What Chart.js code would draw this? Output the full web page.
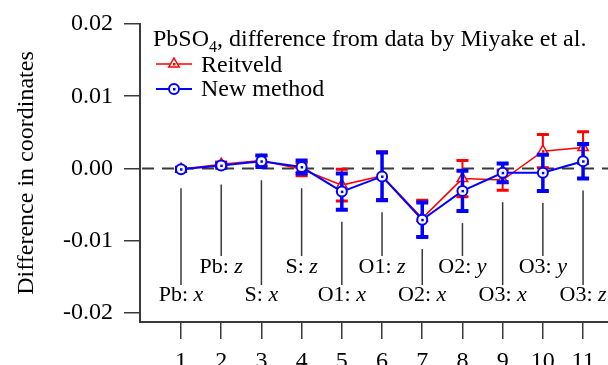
<!DOCTYPE html>
<html>
<head>
<meta charset="utf-8">
<script src="https://cdn.jsdelivr.net/npm/chart.js@4.4.1/dist/chart.umd.min.js"></script>
<style>
  html, body { margin: 0; padding: 0; background: #fff; }
  #wrap { width: 608px; height: 365px; }
</style>
</head>
<body>
<div id="wrap"><canvas id="c" width="608" height="365"></canvas></div>
<script>
// data
const indices = [1, 2, 3, 4, 5, 6, 7, 8, 9, 10, 11];
const atoms  = ['Pb', 'Pb', 'S', 'S', 'O1', 'O1', 'O2', 'O2', 'O3', 'O3', 'O3'];
const coords = ['x', 'z', 'x', 'z', 'x', 'z', 'x', 'y', 'x', 'y', 'z'];
const reitveld     = [-0.0001, 0.0006, 0.0011, -0.0001, -0.0023, -0.0010, -0.0069, -0.0014, -0.0016, 0.0024, 0.0029];
const reitveldErr  = [0.0002, 0.0003, 0.0007, 0.0009, 0.0022, 0.0033, 0.0025, 0.0025, 0.0014, 0.0023, 0.0022];
const newMethod    = [-0.0001, 0.0004, 0.0010, 0.0002, -0.0032, -0.0011, -0.0071, -0.0031, -0.0006, -0.0006, 0.0010];
const newMethodErr = [0.0002, 0.0003, 0.0008, 0.0009, 0.0025, 0.0033, 0.0024, 0.0028, 0.0013, 0.0025, 0.0024];
const yTicks = [-0.02, -0.01, 0, 0.01, 0.02];

const FONT = '"Liberation Serif", "Times New Roman", serif';
const AX = '#3a3a3a';
const RED = '#ff0000', BLUE = '#0000ff';

const series = [
  { vals: reitveld, errs: reitveldErr, color: RED, barW: 2, capW: 3, capHalf: 6 },
  { vals: newMethod, errs: newMethodErr, color: BLUE, barW: 3.5, capW: 4, capHalf: 6 }
];

function drawTriangle(ctx, x, y, r){
  ctx.beginPath();
  ctx.moveTo(x, y - r);
  ctx.lineTo(x + r * 0.866, y + r * 0.5);
  ctx.lineTo(x - r * 0.866, y + r * 0.5);
  ctx.closePath();
}

const extras = {
  id: 'extras',
  beforeDatasetsDraw(chart){
    const {ctx, chartArea: a, scales: {y}} = chart;
    const y0 = y.getPixelForValue(0);
    ctx.save();
    ctx.strokeStyle = AX; ctx.lineWidth = 2; ctx.setLineDash([12, 8]);
    ctx.beginPath(); ctx.moveTo(a.left + 2, y0); ctx.lineTo(a.right, y0); ctx.stroke();
    ctx.restore();
  },
  beforeDatasetDraw(chart, args){
    const s = series[args.index]; if (!s) return;
    const {ctx, scales: {x, y}} = chart;
    ctx.save();
    ctx.strokeStyle = s.color;
    indices.forEach((v, i) => {
      const px = x.getPixelForValue(v);
      const top = y.getPixelForValue(s.vals[i] + s.errs[i]);
      const bot = y.getPixelForValue(s.vals[i] - s.errs[i]);
      ctx.lineWidth = s.barW;
      ctx.beginPath(); ctx.moveTo(px, top); ctx.lineTo(px, bot); ctx.stroke();
      ctx.lineWidth = s.capW;
      ctx.beginPath();
      ctx.moveTo(px - s.capHalf, top); ctx.lineTo(px + s.capHalf, top);
      ctx.moveTo(px - s.capHalf, bot); ctx.lineTo(px + s.capHalf, bot);
      ctx.stroke();
    });
    ctx.restore();
  },
  afterDatasetDraw(chart, args){
    const s = series[args.index]; if (!s) return;
    const {ctx} = chart;
    ctx.save(); ctx.fillStyle = s.color;
    chart.getDatasetMeta(args.index).data.forEach(p => ctx.fillRect(p.x - 1, p.y - 1, 2.5, 2.5));
    ctx.restore();
  },
  afterDraw(chart){
    const {ctx, chartArea: a, scales: {x, y}} = chart;
    ctx.save();
    // leader lines and atom labels
    ctx.strokeStyle = AX; ctx.lineWidth = 1.5; ctx.fillStyle = '#000';
    indices.forEach((v, i) => {
      const px = x.getPixelForValue(v);
      let low = 0;
      series.forEach(s => {
        low = Math.max(low, y.getPixelForValue(s.vals[i] - s.errs[i]), y.getPixelForValue(s.vals[i]) + 7);
      });
      const lower = i % 2 === 0;
      const endY = lower ? a.bottom - 37 : a.bottom - 66;
      const base = lower ? a.bottom - 21 : a.bottom - 49;
      ctx.beginPath(); ctx.moveTo(px, low + 12); ctx.lineTo(px, endY); ctx.stroke();
      const head = atoms[i] + ': ';
      ctx.font = '22px ' + FONT; const w1 = ctx.measureText(head).width;
      ctx.font = 'italic 22px ' + FONT; const w2 = ctx.measureText(coords[i]).width;
      const sx = px - (w1 + w2) / 2;
      ctx.textBaseline = 'alphabetic'; ctx.textAlign = 'left';
      ctx.font = '22px ' + FONT; ctx.fillText(head, sx, base);
      ctx.font = 'italic 22px ' + FONT; ctx.fillText(coords[i], sx + w1, base);
    });

    // legend
    ctx.fillStyle = '#000'; ctx.textAlign = 'left'; ctx.textBaseline = 'alphabetic';
    ctx.font = '24px ' + FONT;
    let tx = 153;
    ctx.fillText('PbSO', tx, 46); tx += ctx.measureText('PbSO').width;
    ctx.font = '16px ' + FONT; ctx.fillText('4', tx, 52); tx += ctx.measureText('4').width;
    ctx.font = '24px ' + FONT; ctx.fillText(', difference from data by Miyake et al.', tx, 46);

    [['Reitveld', RED, 64, 72], ['New method', BLUE, 89, 96]].forEach(([lab, col, ly, by], k) => {
      ctx.strokeStyle = col; ctx.lineWidth = k ? 2 : 1.5;
      ctx.beginPath(); ctx.moveTo(156, ly); ctx.lineTo(192, ly); ctx.stroke();
      ctx.fillStyle = '#fff';
      if (k === 0) { drawTriangle(ctx, 174, ly, 6); ctx.fill(); ctx.lineWidth = 1.5; ctx.stroke(); }
      else { ctx.beginPath(); ctx.arc(174, ly, 5, 0, Math.PI * 2); ctx.fill(); ctx.stroke(); }
      ctx.fillStyle = col; ctx.fillRect(173, ly - 1, 2.5, 2.5);
      ctx.fillStyle = '#000'; ctx.font = '24px ' + FONT;
      ctx.fillText(lab, 201, by);
    });

    // y axis title
    ctx.translate(33, (a.top + a.bottom) / 2);
    ctx.rotate(-Math.PI / 2);
    ctx.textAlign = 'center';
    ctx.fillText('Difference in coordinates', 0, 0);
    ctx.restore();
  }
};

new Chart(document.getElementById('c'), {
  type: 'line',
  data: {
    datasets: [
      {
        label: 'Reitveld', order: 2,
        data: indices.map((v, i) => ({ x: v, y: reitveld[i] })),
        borderColor: RED, borderWidth: 1.5, tension: 0,
        pointStyle: 'triangle', pointRadius: 6, pointBorderWidth: 1.5,
        pointBorderColor: RED, pointBackgroundColor: '#fff'
      },
      {
        label: 'New method', order: 1,
        data: indices.map((v, i) => ({ x: v, y: newMethod[i] })),
        borderColor: BLUE, borderWidth: 2, tension: 0,
        pointStyle: 'circle', pointRadius: 5, pointBorderWidth: 2,
        pointBorderColor: BLUE, pointBackgroundColor: '#fff'
      }
    ]
  },
  options: {
    responsive: false, animation: false,
    layout: { autoPadding: false, padding: { top: 24, left: 0, right: 0, bottom: 0 } },
    plugins: { legend: { display: false }, tooltip: { enabled: false } },
    scales: {
      x: {
        type: 'linear', min: -0.02, max: 11.62,
        afterBuildTicks: s => { s.ticks = indices.map(v => ({ value: v })); },
        afterFit: s => { s.height = 43; s.paddingLeft = 0; s.paddingRight = 0; },
        grid: { drawOnChartArea: false, drawTicks: true, tickLength: 17, color: AX, lineWidth: 1.5 },
        border: { display: true, color: AX, width: 2 },
        ticks: { color: '#000', padding: 8, maxRotation: 0, autoSkip: false, font: { family: FONT, size: 24 } }
      },
      y: {
        min: -0.02125, max: 0.02,
        afterBuildTicks: s => { s.ticks = yTicks.map(v => ({ value: v })); },
        afterFit: s => { s.width = 140; s.paddingTop = 0; s.paddingBottom = 0; },
        grid: { drawOnChartArea: false, drawTicks: true, tickLength: 16, color: AX, lineWidth: 1.5 },
        border: { display: true, color: AX, width: 2 },
        ticks: { color: '#000', padding: 11, font: { family: FONT, size: 24 }, callback: v => v.toFixed(2) }
      }
    }
  },
  plugins: [extras]
});
</script>
</body>
</html>
